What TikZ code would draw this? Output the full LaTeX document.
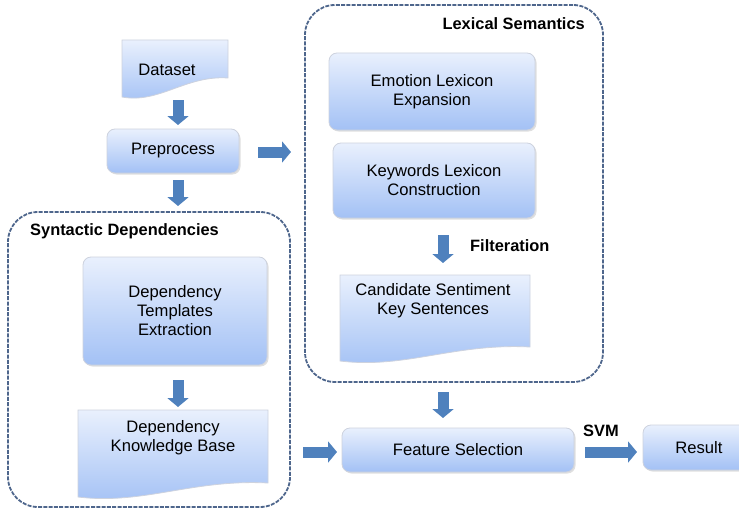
\documentclass[tikz,border=0pt]{standalone}
\usepackage{fontspec}
\setmainfont{Liberation Sans}
\usetikzlibrary{arrows.meta,shadows}
\definecolor{boxtop}{RGB}{233,240,253}
\definecolor{boxbot}{RGB}{163,193,245}
\definecolor{edgecol}{RGB}{205,210,222}
\definecolor{arrowblue}{RGB}{79,129,189}
\definecolor{dashcol}{RGB}{78,102,140}
\begin{document}
\begin{tikzpicture}[x=1pt,y=-1pt,
  every node/.style={font=\fontsize{16.6}{19}\selectfont, align=center, inner sep=0pt},
  procbox/.style={rounded corners=8pt, top color=boxtop, bottom color=boxbot,
    draw=edgecol, line width=0.8pt,
    drop shadow={shadow xshift=1.5pt, shadow yshift=-1.5pt, opacity=0.25}},
  docshape/.style={top color=boxtop, bottom color=boxbot, draw=edgecol, line width=0.8pt},
  groupbox/.style={draw=dashcol, dash pattern=on 4pt off 1.3pt, line width=1.8pt, rounded corners=30pt},
  lbl/.style={font=\fontsize{16.4}{19}\selectfont\bfseries},
  barrow/.style={draw=arrowblue, line width=11pt, -{Triangle[width=21pt,length=9pt]}}]
\useasboundingbox (0,0) rectangle (739,511);
\clip (0,0) rectangle (739,511);

% group containers
\node[groupbox, minimum width=282pt, minimum height=295pt] (syn) at (149,359.5) {};
\node[groupbox, minimum width=298pt, minimum height=377pt] (lex) at (454,193.5) {};

% document shapes
\path[docshape] (122,40) -- (228,40) -- (228,78) .. controls (186,75) and (159,104) .. (122,97) -- cycle;
\path[docshape] (340,275) -- (530,275) -- (530,347) .. controls (454,343) and (406,369) .. (340,361) -- cycle;
\path[docshape] (78,410) -- (268,410) -- (268,483) .. controls (192,479) and (144,505) .. (78,497) -- cycle;

% nodes
\node (ds) at (167,70) {Dataset};
\node[procbox, minimum width=132pt, minimum height=44pt] (pp) at (173,151) {Preprocess};
\node[procbox, minimum width=206pt, minimum height=77pt] (emo) at (432,91.5) {Emotion Lexicon\\Expansion};
\node[procbox, minimum width=202pt, minimum height=75pt] (kw) at (434,180.5) {Keywords Lexicon\\Construction};
\node (cand) at (433,301) {Candidate Sentiment\\Key Sentences};
\node[procbox, minimum width=184pt, minimum height=108pt] (dte) at (175,311) {Dependency\\Templates\\Extraction};
\node (dkb) at (173,437.5) {Dependency\\Knowledge Base};
\node[procbox, minimum width=232pt, minimum height=44pt] (fs) at (458,450) {Feature Selection};
\node[procbox, minimum width=112pt, minimum height=45pt] (res) at (699,447.5) {Result};

% labels
\node[lbl, anchor=west] (syntitle) at (30,231) {Syntactic Dependencies};
\node[lbl, anchor=east] (lextitle) at (585,24) {Lexical Semantics};
\node[lbl, anchor=west] (filt) at (470,246) {Filteration};
\node[lbl, anchor=west] (svm) at (583,431) {SVM};

% arrow endpoints
\coordinate (a1s) at (178,100); \coordinate (a1e) at (178,125);
\coordinate (a2s) at (258,152); \coordinate (a2e) at (291,152);
\coordinate (a3s) at (178,180); \coordinate (a3e) at (178,206);
\coordinate (a4s) at (178,380); \coordinate (a4e) at (178,407);
\coordinate (a5s) at (443,235); \coordinate (a5e) at (443,263);
\coordinate (a6s) at (443,392); \coordinate (a6e) at (443,418);
\coordinate (a7s) at (303,452); \coordinate (a7e) at (337,452);
\coordinate (a8s) at (585,452); \coordinate (a8e) at (637,452);

\draw[barrow] (a1s) -- (a1e);
\draw[barrow] (a2s) -- (a2e);
\draw[barrow] (a3s) -- (a3e);
\draw[barrow] (a4s) -- (a4e);
\draw[barrow] (a5s) -- (a5e);
\draw[barrow] (a6s) -- (a6e);
\draw[barrow] (a7s) -- (a7e);
\draw[barrow] (a8s) -- (a8e);
\end{tikzpicture}
\end{document}
